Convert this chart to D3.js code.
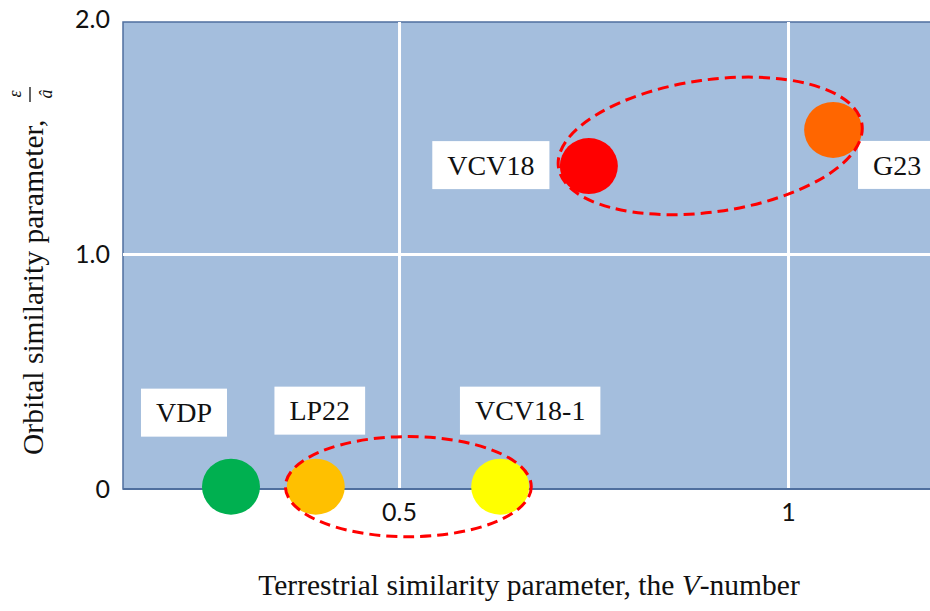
<!DOCTYPE html>
<html>
<head>
<meta charset="utf-8">
<script src="https://cdn.jsdelivr.net/npm/d3@7"></script>
<style>
    body { margin: 0; background: #fff; }
    .tick-label { font-family: Lato, "Liberation Sans", sans-serif; font-size: 25px; fill: #111; }
    .axis-title { font-family: "Liberation Serif", "DejaVu Serif", serif; font-size: 29.5px; fill: #111; }
    .point-label { font-family: "Liberation Serif", "DejaVu Serif", serif; font-size: 28px; fill: #111; }
</style>
</head>
<body>
<div id="chart"></div>
<script>
// studies placed by V-number and orbital similarity parameter
const studyNames = ['VDP', 'LP22', 'VCV18-1', 'VCV18', 'G23'];
const vNumbers = [0.284, 0.393, 0.630, 0.744, 1.058];
const orbitalParams = [0.01, 0.01, 0.01, 1.374, 1.528];
const studyColors = ['#00b050', '#ffc000', '#ffff00', '#ff0000', '#ff6600'];

// dashed groupings (centre, half-width, half-height in data units, tilt in degrees)
const groupCx = [0.900, 0.512];
const groupCy = [1.460, 0.010];
const groupRx = [0.197, 0.158];
const groupRy = [0.281, 0.213];
const groupTilt = [-8, 0];

const xTickValues = [0.5, 1];
const xTickLabels = ['0.5', '1'];
const yTickValues = [0, 1, 2];
const yTickLabels = ['0', '1.0', '2.0'];

class BubbleChart {
    constructor(_config) {
        this.config = {
            parentElement: _config.parentElement,
            containerWidth: _config.containerWidth || 930,
            containerHeight: _config.containerHeight || 611,
            margin: _config.margin || {top: 19, right: 0, bottom: 122, left: 123},
            // box centre offsets from the marker, in px
            labelOffsets: {
                'VDP': [-47, -74],
                'LP22': [4, -76],
                'VCV18-1': [30, -76],
                'VCV18': [-98, -1],
                'G23': [64, 35]
            }
        };
        this.data = studyNames.map((n, i) => ({name: n, x: vNumbers[i], y: orbitalParams[i]}));
        this.groups = groupCx.map((c, i) => ({cx: c, cy: groupCy[i], rx: groupRx[i], ry: groupRy[i], tilt: groupTilt[i]}));
        this.colorScale = d3.scaleOrdinal().domain(studyNames).range(studyColors);
        this.initVis();
    }

    initVis() {
        let vis = this;
        vis.width = vis.config.containerWidth - vis.config.margin.left - vis.config.margin.right;
        vis.height = vis.config.containerHeight - vis.config.margin.top - vis.config.margin.bottom;

        vis.svg = d3.select(vis.config.parentElement)
            .append('svg')
            .attr('width', vis.config.containerWidth)
            .attr('height', vis.config.containerHeight);

        vis.chart = vis.svg.append('g')
            .attr('transform', `translate(${vis.config.margin.left},${vis.config.margin.top})`);

        vis.xScale = d3.scaleLinear().domain([0.1452, 1.1825]).range([0, vis.width]);
        vis.yScale = d3.scaleLinear().domain([0, 2]).range([vis.height, 0]);

        // plot background
        vis.chart.append('rect')
            .attr('x', 0)
            .attr('y', 3)
            .attr('width', vis.width + 4)
            .attr('height', vis.height - 3)
            .attr('fill', '#a4bedd')
            .attr('stroke', '#4f6f9e')
            .attr('stroke-width', 1.5);

        // gridlines
        vis.chart.append('g')
            .attr('transform', `translate(0,${vis.height})`)
            .call(d3.axisBottom(vis.xScale).tickValues(xTickValues).tickSize(-vis.height + 3).tickFormat(''))
            .call(g => g.select('.domain').remove())
            .call(g => g.selectAll('line').attr('stroke', '#fff').attr('stroke-width', 3));

        vis.chart.append('g')
            .call(d3.axisLeft(vis.yScale).tickValues([1]).tickSize(-vis.width - 4).tickFormat(''))
            .call(g => g.select('.domain').remove())
            .call(g => g.selectAll('line').attr('stroke', '#fff').attr('stroke-width', 3));

        // bottom axis line
        vis.chart.append('line')
            .attr('x1', 0).attr('x2', vis.width + 4)
            .attr('y1', vis.height).attr('y2', vis.height)
            .attr('stroke', '#4f6f9e')
            .attr('stroke-width', 2);

        // tick labels
        vis.chart.append('g')
            .attr('transform', `translate(0,${vis.height})`)
            .call(d3.axisBottom(vis.xScale).tickValues(xTickValues).tickSize(0).tickPadding(14)
                .tickFormat((d, i) => xTickLabels[i]))
            .call(g => g.select('.domain').remove())
            .call(g => g.selectAll('text').attr('class', 'tick-label').attr('fill', null));

        vis.chart.append('g')
            .call(d3.axisLeft(vis.yScale).tickValues(yTickValues).tickSize(0).tickPadding(13)
                .tickFormat((d, i) => yTickLabels[i]))
            .call(g => g.select('.domain').remove())
            .call(g => g.selectAll('text').attr('class', 'tick-label').attr('fill', null));

        // x title
        const xt = vis.svg.append('text')
            .attr('class', 'axis-title')
            .attr('x', 529)
            .attr('y', 595)
            .attr('text-anchor', 'middle');
        xt.append('tspan').text('Terrestrial similarity parameter, the ');
        xt.append('tspan').attr('font-style', 'italic').text('V');
        xt.append('tspan').text('-number');

        // y title, rotated, with the epsilon over a-hat fraction
        const yt = vis.svg.append('g').attr('transform', 'rotate(-90)');
        yt.append('text')
            .attr('class', 'axis-title')
            .attr('x', -455)
            .attr('y', 43)
            .text('Orbital similarity parameter,');
        yt.append('text')
            .attr('class', 'axis-title')
            .attr('x', -94).attr('y', 21)
            .attr('text-anchor', 'middle')
            .style('font-size', '18px')
            .style('font-style', 'italic')
            .text('ε');
        yt.append('line')
            .attr('x1', -102).attr('x2', -87)
            .attr('y1', 30).attr('y2', 30)
            .attr('stroke', '#111').attr('stroke-width', 1.3);
        yt.append('text')
            .attr('class', 'axis-title')
            .attr('x', -94).attr('y', 52)
            .attr('text-anchor', 'middle')
            .style('font-size', '18px')
            .style('font-style', 'italic')
            .text('â');

        vis.renderVis();
    }

    renderVis() {
        let vis = this;

        // markers
        vis.chart.append('g').selectAll('ellipse')
            .data(vis.data)
            .join('ellipse')
            .attr('cx', d => vis.xScale(d.x))
            .attr('cy', d => vis.yScale(d.y))
            .attr('rx', 29)
            .attr('ry', 28)
            .attr('fill', d => vis.colorScale(d.name));

        // label boxes
        const labels = vis.chart.append('g').selectAll('g')
            .data(vis.data)
            .join('g')
            .attr('transform', d => {
                const o = vis.config.labelOffsets[d.name];
                return `translate(${vis.xScale(d.x) + o[0]},${vis.yScale(d.y) + o[1]})`;
            });
        labels.append('rect').attr('fill', '#fff');
        labels.append('text')
            .attr('class', 'point-label')
            .attr('text-anchor', 'middle')
            .attr('dy', '0.35em')
            .text(d => d.name);
        labels.each(function() {
            const g = d3.select(this);
            const w = g.select('text').node().getBBox().width + 30;
            g.select('rect')
                .attr('x', -w / 2).attr('y', -24)
                .attr('width', w).attr('height', 48);
        });

        // dashed groupings
        vis.chart.append('g').selectAll('ellipse')
            .data(vis.groups)
            .join('ellipse')
            .attr('transform', d => `translate(${vis.xScale(d.cx)},${vis.yScale(d.cy)}) rotate(${d.tilt})`)
            .attr('rx', d => vis.xScale(d.cx + d.rx) - vis.xScale(d.cx))
            .attr('ry', d => vis.yScale(d.cy) - vis.yScale(d.cy + d.ry))
            .attr('fill', 'none')
            .attr('stroke', '#ff0000')
            .attr('stroke-width', 3)
            .attr('stroke-dasharray', '11,6');
    }
}

new BubbleChart({parentElement: '#chart'});
</script>
</body>
</html>
